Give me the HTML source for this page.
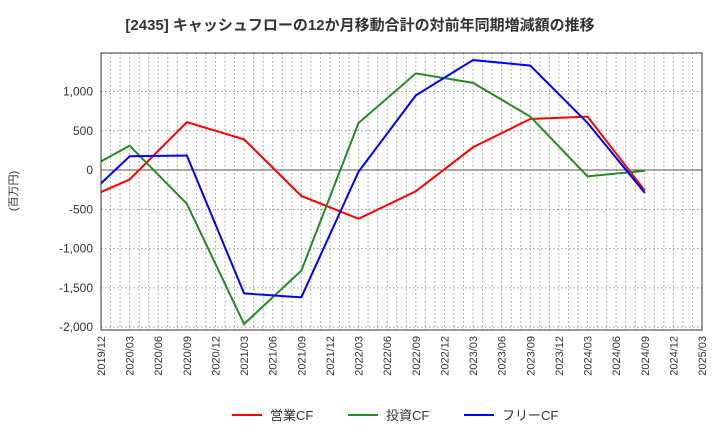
<!DOCTYPE html>
<html><head><meta charset="utf-8"><style>body{margin:0;background:#fff}svg{font-family:"Liberation Sans","Noto Sans CJK JP",sans-serif}</style></head>
<body>
<svg id="c" width="720" height="440">
<text x="360" y="30" text-anchor="middle" font-size="15" font-weight="bold" fill="#333">[2435]  キャッシュフローの12か月移動合計の対前年同期増減額の推移</text>
<text transform="translate(17,191) rotate(-90)" text-anchor="middle" font-size="11" fill="#333">(百万円)</text>
<g id="grid"></g><g id="series"></g><g id="axes"></g>
<g>
<line x1="232" y1="415" x2="262" y2="415" stroke="#f00" stroke-width="2"/><text x="270" y="420" font-size="13" fill="#333">営業CF</text>
<line x1="348" y1="415" x2="378" y2="415" stroke="#228b22" stroke-width="2"/><text x="386" y="420" font-size="13" fill="#333">投資CF</text>
<line x1="464" y1="415" x2="494" y2="415" stroke="#00f" stroke-width="2"/><text x="502" y="420" font-size="13" fill="#333">フリーCF</text>
</g>
</svg>
<script>
const xLabels=["2019/12","2020/03","2020/06","2020/09","2020/12","2021/03","2021/06","2021/09","2021/12","2022/03","2022/06","2022/09","2022/12","2023/03","2023/06","2023/09","2023/12","2024/03","2024/06","2024/09","2024/12","2025/03"];
const yTicks=[1000,500,0,-500,-1000,-1500,-2000];
const yTickLabels=["1,000","500","0","-500","-1,000","-1,500","-2,000"];
const dataIdx=[0,1,3,5,7,9,11,13,15,17,19];
const operatingCF=[-280,-120,610,390,-330,-620,-270,290,650,680,-260];
const investingCF=[110,310,-430,-1960,-1280,600,1230,1110,680,-80,-10];
const freeCF=[-170,175,185,-1570,-1620,-20,950,1400,1330,600,-290];
const L=101,R=702,T=53,B=330,yMax=1490,yMin=-2036;
const xs=i=>L+(R-L)*i/(xLabels.length-1);
const ys=v=>T+(yMax-v)/(yMax-yMin)*(B-T);
const NS="http://www.w3.org/2000/svg";
function mk(t,a,p){const e=document.createElementNS(NS,t);for(const k in a)e.setAttribute(k,a[k]);p.appendChild(e);return e;}
const g=document.getElementById('grid'),s=document.getElementById('series'),ax=document.getElementById('axes');
for(let m=1;m<(xLabels.length-1)*3;m++){const x=L+(R-L)*m/((xLabels.length-1)*3);
const l=mk('line',{x1:x,x2:x,y1:T,y2:B,stroke:'#999','stroke-dasharray':'1.5,2.5','stroke-width':1},g);
}
yTicks.forEach((v,i)=>{const y=ys(v);
const l=mk('line',{x1:L,x2:R,y1:y,y2:y,stroke:v===0?'#555':'#999','stroke-dasharray':v===0?'':'1.5,2.5','stroke-width':1},g);

const t=mk('text',{x:L-8,y:y+4,'text-anchor':'end','font-size':12,fill:'#333'},ax);t.textContent=yTickLabels[i];
});
xLabels.forEach((lab,i)=>{const x=xs(i);
const t=mk('text',{transform:`translate(${x+4},${B+6}) rotate(-90)`,'text-anchor':'end','font-size':11,fill:'#333'},ax);t.textContent=lab;
});
const fr=mk('rect',{x:L,y:T,width:R-L,height:B-T,fill:'none',stroke:'#333','stroke-width':1},ax);

[[operatingCF,'#f00','operating-cf-line'],[investingCF,'#228b22','investing-cf-line'],[freeCF,'#00f','free-cf-line']].forEach(([d,c,n])=>{
const p=mk('polyline',{points:d.map((v,i)=>xs(dataIdx[i])+','+ys(v)).join(' '),fill:'none',stroke:c,'stroke-width':2},s);
});
</script>
</body></html>
